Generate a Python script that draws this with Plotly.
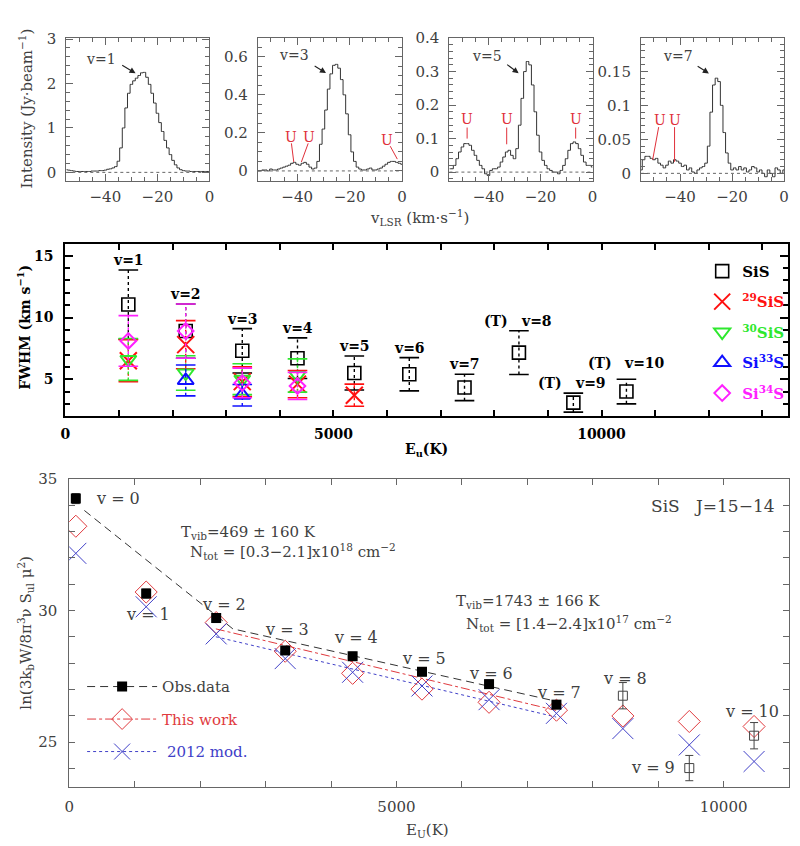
import plotly.graph_objects as go

# ------------------------------------------------------------------ data
velocity = list(range(-55, 1))  # km/s, 1 km/s channels

spec_v1 = [0.06, 0.05, 0.04, 0.03, 0.02, 0.02, 0.02, 0.02,
           0.02, 0.02, 0.03, 0.03, 0.03, 0.04, 0.04, 0.05,
           0.07, 0.08, 0.10, 0.13, 0.25, 0.55, 1.00, 1.45,
           1.78, 1.98, 2.06, 2.12, 2.18, 2.24, 2.25, 2.14,
           1.98, 1.78, 1.56, 1.33, 1.12, 0.92, 0.72, 0.55,
           0.40, 0.27, 0.17, 0.10, 0.06, 0.04, 0.03, 0.03,
           0.02, 0.02, 0.02, 0.02, 0.02, 0.02, 0.02, 0.02]
spec_v3 = [0.00, 0.00, 0.005, 0.005, 0.00, 0.01, 0.005, 0.005,
           0.01, 0.015, 0.02, 0.025, 0.03, 0.04, 0.045, 0.035,
           0.03, 0.04, 0.045, 0.035, 0.02, 0.01, 0.015, 0.05,
           0.14, 0.22, 0.32, 0.43, 0.51, 0.555, 0.56, 0.54,
           0.48, 0.40, 0.30, 0.19, 0.10, 0.05, 0.02, 0.01,
           0.005, 0.005, 0.01, 0.015, 0.005, 0.005, 0.01, 0.015,
           0.025, 0.035, 0.045, 0.05, 0.05, 0.045, 0.04, 0.035]
spec_v5 = [0.01, 0.01, 0.02, 0.04, 0.06, 0.075, 0.085, 0.085,
           0.08, 0.065, 0.05, 0.035, 0.02, 0.01, -0.005, -0.01,
           0.005, 0.01, 0.01, 0.015, 0.03, 0.045, 0.06, 0.065,
           0.05, 0.04, 0.07, 0.14, 0.22, 0.30, 0.33, 0.32,
           0.26, 0.18, 0.11, 0.06, 0.035, 0.02, 0.01, 0.005,
           0.0, 0.0, -0.005, 0.005, 0.02, 0.04, 0.065, 0.085,
           0.09, 0.085, 0.07, 0.05, 0.03, 0.02, 0.02, 0.015]
spec_v7 = [0.005, 0.02, 0.025, 0.025, 0.022, 0.02, 0.022, 0.015,
           0.012, 0.008, 0.012, 0.018, 0.015, 0.02, 0.018, 0.015,
           0.01, 0.012, 0.005, 0.008, 0.002, 0.0, 0.005, 0.008,
           0.01, 0.015, 0.04, 0.09, 0.13, 0.14, 0.135, 0.10,
           0.06, 0.03, 0.015, 0.005, 0.008, 0.005, 0.01, 0.005,
           0.008, 0.002, 0.005, 0.01, 0.008, 0.002, 0.005, 0.0,
           -0.005, 0.005, 0.0, -0.005, 0.008, 0.005, 0.0, 0.005]
spec_labels = ['v=1', 'v=3', 'v=5', 'v=7']

# upper-level energies of v=0..10 (K)
eu = [100, 1175, 2245, 3300, 4330, 5390, 6415, 7445, 8460, 9475, 10465]

# FWHM panel (km/s)
fwhm_sis = [11.05, 8.9, 7.3, 6.7, 5.5, 5.4, 4.33, 7.15, 3.1, 4.0]          # v=1..10
fwhm_sis_err = [2.8, 2.2, 1.8, 1.65, 1.38, 1.35, 1.07, 1.77, 0.77, 1.0]
fwhm_29 = [6.5, 7.8, 4.8, 4.6, 3.7]                                        # v=1..5
fwhm_29_err = [1.7, 1.95, 1.2, 1.1, 0.9]
fwhm_30 = [6.6, 5.5, 5.0, 5.3]                                             # v=1..4
fwhm_30_err = [1.7, 1.4, 1.25, 1.35]
fwhm_33 = [4.9, 3.7]                                                       # v=2..3
fwhm_33_err = [1.25, 0.87]
fwhm_34 = [8.1, 8.9, 4.7, 4.45]                                            # v=1..4
fwhm_34_err = [2.05, 2.2, 1.2, 1.1]
fwhm_labels = ['v=1', 'v=2', 'v=3', 'v=4', 'v=5', 'v=6', 'v=7', 'v=8', 'v=9', 'v=10']

# population diagram
obs_ln = [34.25, 30.64, 29.71, 28.48, 28.26, 27.67, 27.20, 26.42]          # v=0..7
obs_ln_err = [0.19, 0.17, 0.17, 0.15, 0.15, 0.15, 0.15, 0.15]
obs_tent = [26.76, 24.01, 25.24]                                            # v=8..10
obs_tent_err = [0.5, 0.48, 0.5]
this_work = [33.2, 30.7, 29.54, 28.45, 27.61, 27.01, 26.51, 26.21, 25.99, 25.78, 25.59]
mod_2012 = [32.17, 30.14, 29.11, 28.17, 27.65, 27.13, 26.61, 26.09, 25.51, 24.89, 24.26]
fit_obs_x = [230, 2500, 7440]
fit_obs_y = [33.8, 29.3, 26.55]
fit_this_x = [2240, 7440]
fit_this_y = [29.3, 26.2]
fit_mod_x = [2240, 7440]
fit_mod_y = [29.0, 25.95]
pop_labels = ['v = 0', 'v = 1', 'v = 2', 'v = 3', 'v = 4', 'v = 5', 'v = 6',
              'v = 7', 'v = 8', 'v = 9', 'v = 10']

# ------------------------------------------------------------------ style
OFF = 8                      # page body margin of the html page
FW, FH = 800 - OFF, 846 - OFF
SERIF = 'DejaVu Serif'
TXT = '#404040'
FRAME = '#666666'
RED_T = '#e03a3e'
BLUE_T = '#4040c8'


def px(x):
    return (x - OFF) / FW


def py(y):
    return 1 - (y - OFF) / FH


fig = go.Figure()

# ------------------------------------------------------------------ spectra
spectra = [spec_v1, spec_v3, spec_v5, spec_v7]
for k, s in enumerate(spectra, start=1):
    xa = 'x' if k == 1 else f'x{k}'
    ya = 'y' if k == 1 else f'y{k}'
    fig.add_trace(go.Scatter(x=velocity, y=s, mode='lines',
                             line=dict(color='#333', width=1, shape='hvh'),
                             xaxis=xa, yaxis=ya, showlegend=False, hoverinfo='skip'))
    fig.add_shape(type='line', xref=f'{xa} domain', yref=ya, x0=0, x1=1, y0=0, y1=0,
                  line=dict(color='#666', width=1, dash='dot'))

# ------------------------------------------------------------------ FWHM panel
def mid_series(xs, ys, errs, color, symbol, size, name, lw, group):
    lx, ly = [], []
    for x, y, e in zip(xs, ys, errs):
        lx += [x, x, None]
        ly += [y - e, y + e, None]
    fig.add_trace(go.Scatter(x=lx, y=ly, mode='lines',
                             line=dict(color=color, width=1.4, dash='dot'),
                             xaxis='x5', yaxis='y5', showlegend=False, hoverinfo='skip'))
    cx = list(xs) + list(xs)
    cy = [y - e for y, e in zip(ys, errs)] + [y + e for y, e in zip(ys, errs)]
    fig.add_trace(go.Scatter(x=cx, y=cy, mode='markers',
                             marker=dict(symbol='line-ew', size=14, color=color,
                                         line=dict(color=color, width=1.6)),
                             xaxis='x5', yaxis='y5', showlegend=False, hoverinfo='skip'))
    fig.add_trace(go.Scatter(x=xs, y=ys, mode='markers',
                             marker=dict(symbol=symbol, size=size, color=color,
                                         line=dict(color=color, width=lw)),
                             name=name, legend='legend2', legendgroup=group,
                             xaxis='x5', yaxis='y5', hoverinfo='skip'))


mid_series(eu[1:11], fwhm_sis, fwhm_sis_err, '#000000', 'square-open', 13, '<b>SiS</b>', 1.6, 'a')
mid_series(eu[1:6], fwhm_29, fwhm_29_err, '#ff1010', 'x-thin-open', 17,
           '<b><span style="color:#ff1010"><sup>29</sup>SiS</span></b>', 2, 'b')
mid_series(eu[1:5], fwhm_30, fwhm_30_err, '#2ee82e', 'triangle-down-open', 14,
           '<b><span style="color:#2ee82e"><sup>30</sup>SiS</span></b>', 2, 'c')
mid_series(eu[2:4], fwhm_33, fwhm_33_err, '#1010ff', 'triangle-up-open', 14,
           '<b><span style="color:#1010ff">Si<sup>33</sup>S</span></b>', 2, 'd')
mid_series(eu[1:5], fwhm_34, fwhm_34_err, '#ff20ff', 'diamond-open', 12,
           '<b><span style="color:#ff20ff">Si<sup>34</sup>S</span></b>', 2, 'e')

# ------------------------------------------------------------------ population diagram
fig.add_trace(go.Scatter(x=fit_obs_x, y=fit_obs_y, mode='lines',
                         line=dict(color='#333', width=1, dash='8px,5px'),
                         xaxis='x6', yaxis='y6', showlegend=False, hoverinfo='skip'))
fig.add_trace(go.Scatter(x=fit_this_x, y=fit_this_y, mode='lines',
                         line=dict(color=RED_T, width=1, dash='dashdot'),
                         xaxis='x6', yaxis='y6', showlegend=False, hoverinfo='skip'))
fig.add_trace(go.Scatter(x=fit_mod_x, y=fit_mod_y, mode='lines',
                         line=dict(color=BLUE_T, width=1, dash='dot'),
                         xaxis='x6', yaxis='y6', showlegend=False, hoverinfo='skip'))
fig.add_trace(go.Scatter(x=eu, y=this_work, mode='markers',
                         marker=dict(symbol='diamond-open', size=17, color=RED_T,
                                     line=dict(color=RED_T, width=1)),
                         xaxis='x6', yaxis='y6', showlegend=False, hoverinfo='skip'))
fig.add_trace(go.Scatter(x=eu, y=mod_2012, mode='markers',
                         marker=dict(symbol='x-thin-open', size=21, color=BLUE_T,
                                     line=dict(color=BLUE_T, width=1)),
                         xaxis='x6', yaxis='y6', showlegend=False, hoverinfo='skip'))
fig.add_trace(go.Scatter(x=eu[:8], y=obs_ln, mode='markers',
                         error_y=dict(type='data', array=obs_ln_err, color='#333',
                                      thickness=1, width=4),
                         marker=dict(symbol='square', size=10, color='black'),
                         xaxis='x6', yaxis='y6', showlegend=False, hoverinfo='skip'))
fig.add_trace(go.Scatter(x=eu[8:], y=obs_tent, mode='markers',
                         error_y=dict(type='data', array=obs_tent_err, color='#444',
                                      thickness=1, width=4),
                         marker=dict(symbol='square-open', size=9, color='#444',
                                     line=dict(color='#444', width=1)),
                         xaxis='x6', yaxis='y6', showlegend=False, hoverinfo='skip'))

# legend entries of the population diagram
fig.add_trace(go.Scatter(x=[None], y=[None], mode='lines+markers', name='Obs.data',
                         line=dict(color='#333', width=1, dash='8px,5px'),
                         marker=dict(symbol='square', size=10, color='black'),
                         xaxis='x6', yaxis='y6', legend='legend', legendgroup='L1'))
fig.add_trace(go.Scatter(x=[None], y=[None], mode='lines+markers',
                         name=f'<span style="color:{RED_T}">This work</span>',
                         line=dict(color=RED_T, width=1, dash='dashdot'),
                         marker=dict(symbol='diamond-open', size=16, color=RED_T,
                                     line=dict(color=RED_T, width=1)),
                         xaxis='x6', yaxis='y6', legend='legend', legendgroup='L2'))
fig.add_trace(go.Scatter(x=[None], y=[None], mode='lines+markers',
                         name=f'<span style="color:{BLUE_T}"> 2012 mod.</span>',
                         line=dict(color=BLUE_T, width=1, dash='dot'),
                         marker=dict(symbol='x-thin-open', size=16, color=BLUE_T,
                                     line=dict(color=BLUE_T, width=1)),
                         xaxis='x6', yaxis='y6', legend='legend', legendgroup='L3'))

# ------------------------------------------------------------------ axes
tick_font = dict(family=SERIF, size=15, color=TXT)
bold_font = dict(family=SERIF, size=14, color='black', weight='bold')


def spec_x(dom, anchor):
    return dict(domain=dom, anchor=anchor, range=[-55, 0], tick0=0, dtick=20,
                ticks='inside', ticklen=7, tickcolor=FRAME,
                minor=dict(dtick=5, ticks='inside', ticklen=4, tickcolor=FRAME),
                showline=True, linecolor=FRAME, linewidth=1, mirror='allticks',
                showgrid=False, zeroline=False, tickfont=tick_font, ticklabelstandoff=2)


def spec_y(anchor, rng, dt, mdt):
    return dict(domain=[py(174), py(29)], anchor=anchor, range=rng, tick0=0, dtick=dt,
                ticks='inside', ticklen=7, tickcolor=FRAME,
                minor=dict(dtick=mdt, ticks='inside', ticklen=4, tickcolor=FRAME),
                showline=True, linecolor=FRAME, linewidth=1, mirror='allticks',
                showgrid=False, zeroline=False, tickfont=tick_font, ticklabelstandoff=6)


fig.update_layout(
    width=FW, height=FH, margin=dict(l=0, r=0, t=0, b=0),
    paper_bgcolor='white', plot_bgcolor='white',
    xaxis=spec_x([px(62), px(207)], 'y'),
    yaxis=spec_y('x', [-0.19, 3.03], 1, 0.2),
    xaxis2=spec_x([px(256), px(402)], 'y2'),
    yaxis2=spec_y('x2', [-0.052, 0.70], 0.2, 0.05),
    xaxis3=spec_x([px(450), px(595)], 'y3'),
    yaxis3=spec_y('x3', [-0.026, 0.401], 0.1, 0.02),
    xaxis4=spec_x([px(644), px(789)], 'y4'),
    yaxis4=spec_y('x4', [-0.011, 0.1995], 0.05, 0.01),
    xaxis5=dict(domain=[px(61), px(793)], anchor='y5', range=[0, 13480],
                tick0=0, dtick=5000, tickformat='d', ticks='inside', ticklen=6,
                tickwidth=1.5, tickcolor='black',
                minor=dict(dtick=1000, ticks='inside', ticklen=6, tickwidth=1.5,
                           tickcolor='black'),
                showline=True, linecolor='black',
                linewidth=2, mirror='allticks', showgrid=False, zeroline=False,
                tickfont=bold_font, ticklabelstandoff=5),
    yaxis5=dict(domain=[py(412), py(238)], anchor='x5', range=[2.04, 15.96],
                tick0=0, dtick=5, ticks='inside', ticklen=8, tickwidth=1.5,
                tickcolor='black',
                minor=dict(dtick=1, ticks='inside', ticklen=5, tickcolor='black'),
                showline=True, linecolor='black', linewidth=2, mirror='allticks',
                showgrid=False, zeroline=False, tickfont=bold_font, ticklabelstandoff=7),
    xaxis6=dict(domain=[px(65), px(794)], anchor='y6', range=[0, 11000],
                tick0=0, dtick=5000, tickformat='d', ticks='inside', ticklen=6,
                tickcolor=FRAME,
                minor=dict(dtick=1000, ticks='inside', ticklen=6, tickcolor=FRAME),
                showline=True, linecolor=FRAME, linewidth=1,
                mirror='allticks', showgrid=False, zeroline=False, tickfont=tick_font,
                ticklabelstandoff=6),
    yaxis6=dict(domain=[py(788), py(476)], anchor='x6', range=[23.3, 35.001],
                tick0=0, dtick=5, ticks='inside', ticklen=6, tickcolor=FRAME,
                minor=dict(dtick=1, ticks='inside', ticklen=6, tickcolor=FRAME),
                showline=True, linecolor=FRAME, linewidth=1,
                mirror='allticks', showgrid=False, zeroline=False, tickfont=tick_font,
                ticklabelstandoff=8),
    legend=dict(x=px(78), y=py(670), xanchor='left', yanchor='top',
                font=dict(family=SERIF, size=15, color=TXT), bgcolor='rgba(0,0,0,0)',
                traceorder='grouped', tracegroupgap=10, itemwidth=70),
    legend2=dict(x=px(706), y=py(249), xanchor='left', yanchor='top',
                 font=dict(family=SERIF, size=15, color='black'), bgcolor='rgba(0,0,0,0)',
                 traceorder='grouped', tracegroupgap=8, itemwidth=30),
)

# ------------------------------------------------------------------ annotations
ann = []


def txt(x, y, text, xref='paper', yref='paper', size=15, color=TXT, xanchor='center',
        yanchor='middle', weight='normal', angle=0, xshift=0, yshift=0):
    ann.append(dict(x=x, y=y, xref=xref, yref=yref, text=text, showarrow=False,
                    font=dict(family=SERIF, size=size, color=color, weight=weight),
                    xanchor=xanchor, yanchor=yanchor, textangle=angle,
                    xshift=xshift, yshift=yshift))


# spectra titles
txt(px(21), py(101), 'Intensity (Jy·beam<sup>−1</sup>)', angle=-90)
txt(px(420), py(211), 'v<sub>LSR</sub> (km·s<sup>−1</sup>)')

# spectra labels with arrows
spec_label_pos = [(-41.7, 2.56), (-41.1, 0.608), (-40.6, 0.345), (-40.6, 0.172)]
spec_arrows = [((-28.4, 2.23), (-34.1, 2.43)), ((-29.0, 0.514), (-33.9, 0.556)),
               ((-28.4, 0.295), (-33.4, 0.324)), ((-28.9, 0.147), (-33.8, 0.159))]
for k in range(4):
    xa = 'x' if k == 0 else f'x{k + 1}'
    ya = 'y' if k == 0 else f'y{k + 1}'
    lx, ly = spec_label_pos[k]
    txt(lx, ly, spec_labels[k], xref=xa, yref=ya, size=14)
    (hx, hy), (tx, ty) = spec_arrows[k]
    ann.append(dict(x=hx, y=hy, ax=tx, ay=ty, xref=xa, yref=ya, axref=xa, ayref=ya,
                    text='', showarrow=True, arrowhead=2, arrowsize=1.1, arrowwidth=1.1,
                    arrowcolor='#222'))

# unidentified features (U)
u_marks = [  # axis, text x, text y, line x0, y0, x1, y1
    (2, -42.2, 0.177, -42.2, 0.145, -41.3, 0.047),
    (2, -35.4, 0.177, -35.8, 0.145, -38.4, 0.047),
    (2, -5.7, 0.161, -4.5, 0.130, -1.8, 0.062),
    (3, -48.2, 0.157, -48.2, 0.133, -48.2, 0.100),
    (3, -33.0, 0.157, -33.0, 0.133, -33.0, 0.083),
    (3, -6.5, 0.157, -6.5, 0.133, -6.5, 0.100),
    (4, -47.8, 0.079, -48.2, 0.068, -50.5, 0.020),
    (4, -42.1, 0.079, -42.1, 0.068, -42.1, 0.017),
]
for k, tx, ty, x0, y0, x1, y1 in u_marks:
    txt(tx, ty, 'U', xref=f'x{k}', yref=f'y{k}', size=14, color='#e0303a')
    fig.add_shape(type='line', xref=f'x{k}', yref=f'y{k}', x0=x0, y0=y0, x1=x1, y1=y1,
                  line=dict(color='#e0303a', width=1))

# FWHM panel titles and labels
txt(px(19), py(322), 'FWHM (km s<sup>−1</sup>)', color='black', weight='bold', angle=-90,
    size=14)
txt(px(427), py(447), 'E<sub>u</sub>(K)', color='black', weight='bold', size=14)
for i, lab in enumerate(fwhm_labels):
    xe = eu[i + 1]
    ytop = fwhm_sis[i] + fwhm_sis_err[i]
    if i < 7:
        txt(xe, ytop, lab, xref='x5', yref='y5', size=14, color='black', weight='bold',
            yanchor='bottom', yshift=0)
    else:
        ys = 6 if i == 9 else 0
        txt(xe, ytop, lab, xref='x5', yref='y5', size=14, color='black', weight='bold',
            xanchor='left', yanchor='bottom', yshift=ys, xshift=-4 if i == 9 else 0)
        txt(xe, ytop, '(T)', xref='x5', yref='y5', size=14, color='black', weight='bold',
            xanchor='right', yanchor='bottom', yshift=ys, xshift=-12 if i == 9 else -9)

# population diagram titles and labels
txt(px(21), py(632), 'ln(3k<sub>b</sub>W/8π<sup>3</sup>ν S<sub>ul</sub> μ<sup>2</sup>)', angle=-90)
txt(px(428), py(832), 'E<sub>U</sub>(K)')
pop_label_pos = [(739, 34.25), (1207, 29.83), (2368, 30.21), (3333, 29.27), (4374, 28.97),
                 (5415, 28.18), (6440, 27.62), (7481, 26.87), (8492, 27.43), (8914, 24.03),
                 (10438, 26.16)]
for lab, (lx, ly) in zip(pop_labels, pop_label_pos):
    txt(lx, ly, lab, xref='x6', yref='y6', size=16)
txt(1674, 32.95, 'T<sub>vib</sub>=469 ± 160 K', xref='x6', yref='y6', xanchor='left')
txt(1810, 32.25, 'N<sub>tot</sub> = [0.3−2.1]x10<sup>18</sup> cm<sup>−2</sup>',
    xref='x6', yref='y6', xanchor='left')
txt(5882, 30.33, 'T<sub>vib</sub>=1743 ± 166 K', xref='x6', yref='y6', xanchor='left')
txt(6033, 29.50, 'N<sub>tot</sub> = [1.4−2.4]x10<sup>17</sup> cm<sup>−2</sup>',
    xref='x6', yref='y6', xanchor='left')
txt(10815, 33.98, 'SiS   J=15−14', xref='x6', yref='y6', xanchor='right', size=17)

fig.update_layout(annotations=ann)
fig.write_html('out.html')
